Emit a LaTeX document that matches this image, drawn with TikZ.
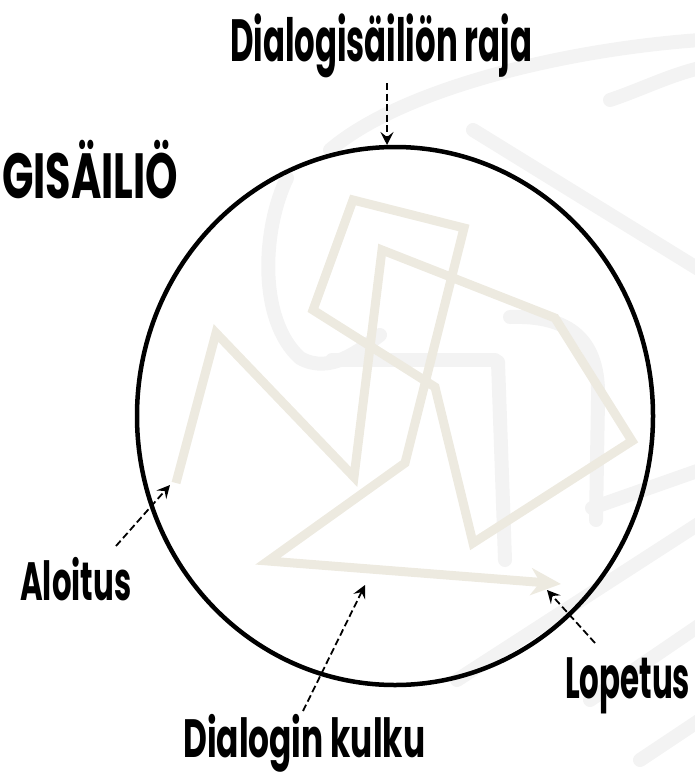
\documentclass[tikz,border=0pt]{standalone}
\usepackage{fontspec}
\usepackage{graphicx}
\usetikzlibrary{arrows.meta}
\newfontfamily\labelfont{Poppins}

\definecolor{pathbeige}{RGB}{237,234,224}
\definecolor{markgray}{RGB}{243,243,243}

% label squeezed to a given width and cap height
\newsavebox\lblbox
\newlength\lblcap
\newlength\lblwd
\newcommand{\fitlabel}[3]{%
  {\labelfont\bfseries\fontsize{40}{48}\selectfont
   \sbox\lblbox{#3}%
   \setlength\lblcap{\fontcharht\font`H}%
   \setlength\lblwd{\wd\lblbox}%
   \pgfmathsetmacro\lblsx{#1/\lblwd}%
   \pgfmathsetmacro\lblsy{#2/\lblcap}%
   \scalebox{\lblsx}[\lblsy]{\usebox\lblbox}}}

\begin{document}
\begin{tikzpicture}[x=1pt, y=-1pt,
    lbl/.style={inner sep=0pt},
    emblem/.style={markgray, line width=14pt, line cap=round, line join=round},
    flow/.style={pathbeige, line width=9pt, line join=miter,
      -{Stealth[length=30pt, width=27pt, inset=9pt]}},
    pointer/.style={line width=1.8pt, dash pattern=on 7pt off 3.5pt,
      -{Stealth[length=13pt, width=13pt, inset=5pt]}}]
    \useasboundingbox (0,0) rectangle (695,776);

    % Faint background emblem
    \draw[emblem] (287,178) .. controls (262,230) and (258,320) .. (300,358)
        .. controls (330,375) and (360,350) .. (380,335);
    \draw[emblem] (332,360) -- (495,360);
    \draw[emblem] (498,362) -- (505,560);
    \draw[emblem] (510,317) .. controls (570,315) and (600,340) .. (598,400) -- (596,520);
    \draw[emblem] (330,150) .. controls (400,90) and (560,50) .. (700,40);
    \draw[emblem] (473,130) -- (700,270);
    \draw[emblem] (610,100) .. controls (640,90) and (670,75) .. (700,68);
    \draw[emblem] (592,508) -- (700,470);
    \draw[emblem] (457,680) -- (700,523);
    \draw[emblem] (590,700) -- (700,625);
    \draw[emblem] (640,760) -- (700,720);

    % Dialog flow
    \draw[flow] (176,483) -- (216,333) -- (354,477) -- (382,250) -- (555,318)
        -- (632,441) -- (473,543) -- (435,387) -- (313,310) -- (353,200)
        -- (464,228) -- (405,463) -- (268,561) -- (561,584);

    % Container boundary
    \draw[line width=4.5pt] (395,416) ellipse [x radius=258, y radius=269];

    % Labels
    \node[lbl, anchor=base] (rajaLabel) at (381,62) {\fitlabel{302}{42}{Dialogisäiliön raja}};
    \node[lbl, anchor=base west] (titleLabel) at (2,198) {\fitlabel{176}{45}{GISÄILIÖ}};
    \node[lbl, anchor=base west] (startLabel) at (20,600) {\fitlabel{111}{38}{Aloitus}};
    \node[lbl, anchor=base west] (endLabel) at (565,698) {\fitlabel{125}{41}{Lopetus}};
    \node[lbl, anchor=base west] (flowLabel) at (183,757) {\fitlabel{242}{38}{Dialogin kulku}};

    % Pointer ends
    \coordinate (rajaTail) at (387,83);
    \coordinate (rajaTip) at (387,145);
    \coordinate (startTail) at (116,546);
    \coordinate (startTip) at (170,485);
    \coordinate (flowTail) at (303,711);
    \coordinate (flowTip) at (365,585);
    \coordinate (endTail) at (595,643);
    \coordinate (endTip) at (547,590);

    % Pointers
    \draw[pointer] (rajaTail) -- (rajaTip);
    \draw[pointer] (startTail) -- (startTip);
    \draw[pointer] (flowTail) -- (flowTip);
    \draw[pointer] (endTail) -- (endTip);
\end{tikzpicture}
\end{document}
